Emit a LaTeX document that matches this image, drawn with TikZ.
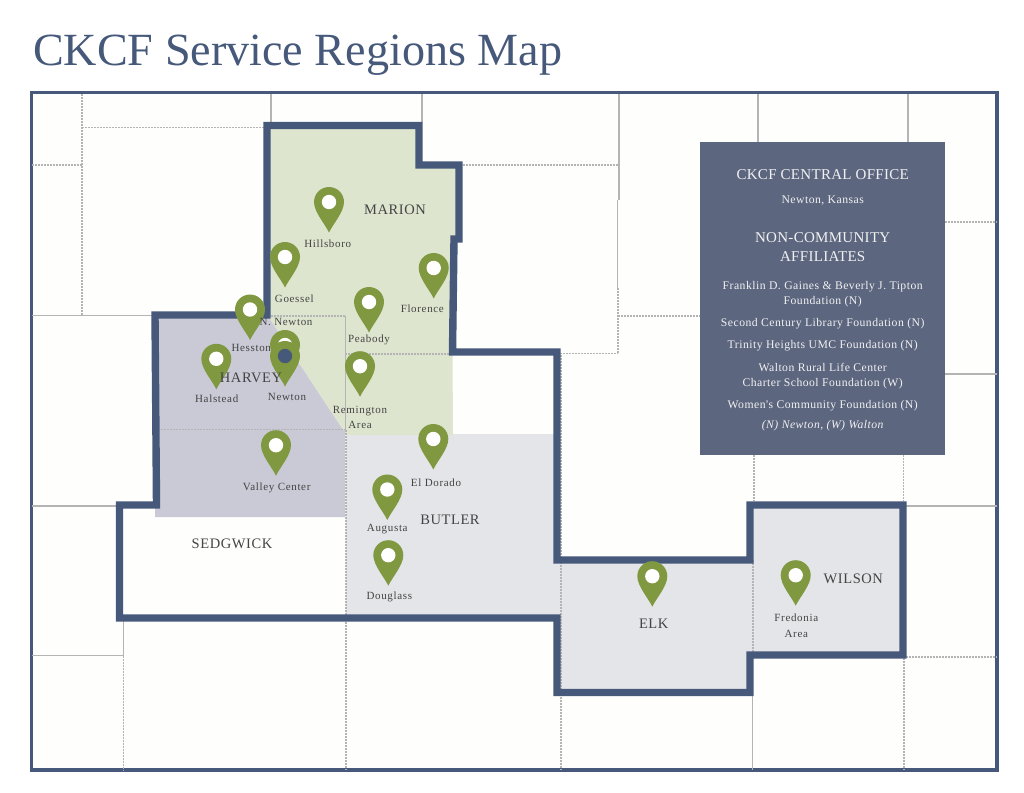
\documentclass[tikz,border=0pt]{standalone}
\usepackage{fontspec}
\setmainfont{Liberation Serif}
\newfontfamily\placefont[LetterSpace=6]{Liberation Serif}
\newfontfamily\countyfont[LetterSpace=4]{Liberation Serif}
\newfontfamily\officefont[LetterSpace=4]{Liberation Serif}
\newfontfamily\officeheadfont[LetterSpace=2]{Liberation Serif}
\definecolor{slateblue}{HTML}{46597A}
\definecolor{boxblue}{HTML}{5C667F}
\definecolor{pingreen}{HTML}{80983F}
\definecolor{marionfill}{HTML}{DEE5CF}
\definecolor{harveyfill}{HTML}{C9CAD5}
\definecolor{butlerfill}{HTML}{E4E5E8}
\definecolor{paperfill}{HTML}{FEFEFC}
\definecolor{linegray}{HTML}{B4B4B4}
\definecolor{labelgray}{HTML}{444444}
\definecolor{boxtext}{HTML}{F1F1F1}
\tikzset{
  frameline/.style={draw=slateblue,line width=3.3pt,fill=paperfill},
  regionborder/.style={draw=slateblue,line width=7.4pt,line join=miter},
  countyline/.style={draw=linegray,line width=1.5pt},
  countydash/.style={draw=linegray,line width=1.7pt,dash pattern=on 2.4pt off .6pt},
  place/.style={text=labelgray,align=center,inner sep=0pt,font=\placefont\fontsize{11}{15.5}\selectfont},
  county/.style={text=labelgray,inner sep=0pt,font=\countyfont\fontsize{14.5}{15}\selectfont},
  officehead/.style={text=boxtext,inner sep=0pt,font=\officeheadfont\fontsize{15}{15}\selectfont},
  officeline/.style={text=boxtext,inner sep=0pt,font=\officefont\fontsize{11.7}{13}\selectfont},
  mappin/.pic={
    \fill[pingreen] (0,30.5) .. controls (-4,22) and (-15,10) .. (-15,0)
      arc (180:360:15) .. controls (15,10) and (4,22) .. cycle;
    \fill[white] (0,0) circle (7.2);
  },
  officepin/.pic={
    \fill[pingreen] (0,30.5) .. controls (-4,22) and (-15,10) .. (-15,0)
      arc (180:360:15) .. controls (15,10) and (4,22) .. cycle;
    \fill[slateblue] (0,0) circle (7.2);
  },
}
\begin{document}
\begin{tikzpicture}[x=1pt,y=-1pt]
  \useasboundingbox (0,0) rectangle (1024,792);
  \fill[white] (0,0) rectangle (1024,792);
  \node[anchor=base west,inner sep=0pt,text=slateblue,font=\fontsize{46.1}{50}\selectfont] (title) at (33,65) {CKCF Service Regions Map};
  \draw[frameline] (31.5,92.7) rectangle (997,770);
  % regions
  \fill[butlerfill] (346,433.5) -- (557,433.5) -- (557,618) -- (346,618) -- cycle;
  \fill[butlerfill] (557,560) -- (750,560) -- (750,505) -- (903,505) -- (903,655) -- (750,655) -- (750,692.5) -- (557,692.5) -- cycle;
  \fill[marionfill] (267,125.5) -- (419,125.5) -- (419,165) -- (459,165) -- (459,239) -- (454,239) -- (452.5,352)
    -- (453,435) -- (346,435) -- (343,430) -- (269,318) -- cycle;
  \fill[harveyfill] (155,315) -- (267,315) -- (269,318) -- (343,430) -- (345,430) -- (345,517) -- (155,517) -- cycle;
  % county lines
  \begin{scope}[countydash]
    \draw (82,94) -- (82,315);
    \draw (82,127.5) -- (265,127.5);
    \draw (32,165) -- (82,165);
    \draw (463,165) -- (619,165);
    \draw (618,288) -- (618,353.5);
    \draw (618,316) -- (700,316);
    \draw (557,353.5) -- (618,353.5);
    \draw (561,355) -- (561,770);
    \draw (346,430) -- (346,770);
    \draw (945,222) -- (997,222);
    \draw (906,656.7) -- (997,656.7);
    \draw (754,455) -- (754,501);
    \draw (903.5,455) -- (903.5,501);
    \draw (753,560) -- (753,655);
    \draw (904,658) -- (904,770);
    \draw (123.5,655.7) -- (123.5,770);
    \draw (271,316) -- (345,316);
    \draw (345,354) -- (449,354);
    \draw (158,429.5) -- (345,429.5);
  \end{scope}
  \begin{scope}[countyline]
    \draw (271,94) -- (271,122);
    \draw (422,94) -- (422,122);
    \draw (619,94) -- (619,200);
    \draw (617.5,200) -- (617.5,288);
    \draw (758,94) -- (758,142);
    \draw (908,94) -- (908,142);
    \draw (32,315.5) -- (152,315.5);
    \draw (32,506) -- (116,506);
    \draw (32,655.7) -- (123,655.7);
    \draw (123.5,621) -- (123.5,655.7);
    \draw (345.5,316) -- (345.5,430);
    \draw (945,374) -- (997,374);
    \draw (906,506) -- (997,506);
    \draw (752.5,692) -- (752.5,770);
  \end{scope}
  \draw[regionborder] (267,125.5) -- (419,125.5) -- (419,165) -- (459,165) -- (459,239) -- (454,239)
    -- (452.5,352) -- (557,352) -- (557,560) -- (750,560) -- (750,505) -- (903,505) -- (903,655)
    -- (750,655) -- (750,692.5) -- (557,692.5) -- (557,618) -- (119.5,618) -- (119.5,505)
    -- (156.5,505) -- (155,315) -- (267,315) -- cycle;
  % office box
  \fill[boxblue] (700,141.7) rectangle (945.3,455);
  \draw
    (822.7,175) node[officehead] (office){CKCF CENTRAL OFFICE}
    (822.7,200.7) node[officeline] (kansas){Newton, Kansas}
    (822.7,237.7) node[officehead] (noncommunity){NON-COMMUNITY}
    (822.7,257) node[officehead] (affiliates){AFFILIATES}
    (822.7,286.7) node[officeline] (franklin){Franklin D. Gaines \& Beverly J. Tipton}
    (822.7,302) node[officeline] (franklinb){Foundation (N)}
    (822.7,323.7) node[officeline] (second){Second Century Library Foundation (N)}
    (822.7,345.7) node[officeline] (trinity){Trinity Heights UMC Foundation (N)}
    (822.7,367.3) node[officeline] (walton){Walton Rural Life Center}
    (822.7,383.3) node[officeline] (charter){Charter School Foundation (W)}
    (822.7,405.3) node[officeline] (women){Women's Community Foundation (N)}
    (822.7,426) node[officeline] (key){\itshape (N) Newton, (W) Walton};
  % pins
  \pic at (329,202) {mappin};
  \pic at (285,257) {mappin};
  \pic at (250,309.5) {mappin};
  \pic at (285,345) {mappin};
  \pic at (285,356) {officepin};
  \pic at (216.3,358.8) {mappin};
  \pic at (369,302) {mappin};
  \pic at (433.7,268) {mappin};
  \pic at (360,366.2) {mappin};
  \pic at (276,445.2) {mappin};
  \pic at (433.3,439) {mappin};
  \pic at (387.3,489.5) {mappin};
  \pic at (388.3,555.2) {mappin};
  \pic at (652.3,576.2) {mappin};
  \pic at (795.7,575.2) {mappin};
  % labels
  \draw
    (395,209.3) node[county] (marion){MARION}
    (251,378) node[county] (harvey){HARVEY}
    (450,520) node[county] (butler){BUTLER}
    (232,544.3) node[county] (sedgwick){SEDGWICK}
    (653.7,624) node[county] (elk){ELK}
    (853.3,579.3) node[county] (wilson){WILSON};
  \draw
    (327.7,243.3) node[place] (hillsboro){Hillsboro}
    (294.3,298.7) node[place] (goessel){Goessel}
    (286,322.3) node[place] (nnewton){N. Newton}
    (251.3,348) node[place] (hesston){Hesston}
    (422.3,308.7) node[place] (florence){Florence}
    (369,340) node[place] (peabody){Peabody}
    (216.7,399) node[place] (halstead){Halstead}
    (287,396.7) node[place] (newton){Newton}
    (360,417.2) node[place] (remington){Remington\\Area}
    (276.7,488.3) node[place] (valley){Valley Center}
    (436,482.3) node[place] (eldorado){El Dorado}
    (387.3,528.7) node[place] (augusta){Augusta}
    (389.3,596.7) node[place] (douglass){Douglass}
    (796.3,625.8) node[place] (fredonia){Fredonia\\Area};
\end{tikzpicture}
\end{document}
